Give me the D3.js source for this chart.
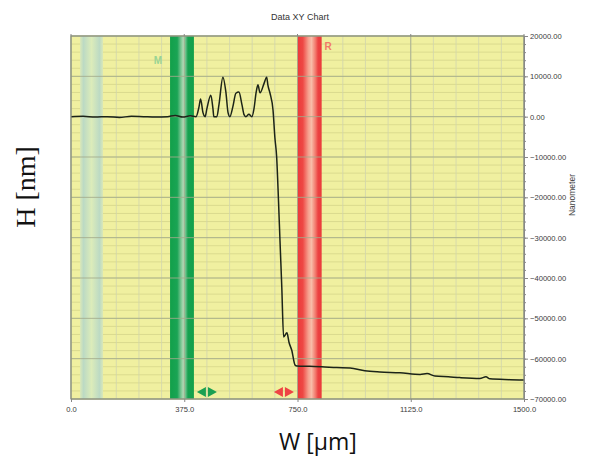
<!DOCTYPE html>
<html>
<head>
<meta charset="utf-8">
<script src="https://cdn.jsdelivr.net/npm/d3@7"></script>
<style>
  body { margin: 0; background: #fff; }
  svg { display: block; }
</style>
</head>
<body>
<div id="chart"></div>
<script>
// profile data (W in µm, H in nm)
const profileX = [0, 40, 80, 120, 160, 200, 240, 280, 320, 345, 370, 395, 414,
  424, 429, 437, 444, 450, 463, 470, 473, 483, 490, 503, 513, 520, 526, 536, 546, 556,
  566, 573, 579, 589, 599, 606, 613, 619, 626, 639, 648, 652, 659, 669, 675, 681, 687,
  692, 698, 704, 715, 722, 731, 742, 748, 790, 830, 880, 924, 973, 1023, 1089, 1156,
  1179, 1205, 1250, 1288, 1354, 1374, 1387, 1454, 1500];
const profileY = [0, 100, -100, 0, -200, 100, 0, -100, 0, 300, -100, 200, 0,
  2500, 4400, 1000, 0, 2000, 5300, 2000, 0, 0, 3000, 9800, 6000, 1000, 0, 2500, 5800, 6100,
  3000, 500, 0, 600, 0, 2000, 6000, 7900, 5900, 8200, 9800, 7800, 5800, 1600, -5100, -10000, -20700,
  -30700, -42300, -54600, -53600, -56000, -57900, -61600, -61800, -61900, -62000, -62200, -62300, -63000, -63300, -63500, -63900,
  -63700, -64300, -64500, -64700, -64900, -64500, -65000, -65200, -65300];

const xTicks = [0, 375, 750, 1125, 1500];
const yTicks = [20000, 10000, 0, -10000, -20000, -30000, -40000, -50000, -60000, -70000];

// cursor bands (x0, x1 in µm)
const bandNames = ["ref", "M", "R"];
const bandStart = [30, 328, 750];
const bandEnd = [106, 407, 830];

// cursor letters
const cursorLabels = ["M", "R"];
const cursorLabelX = [288, 851];
const cursorLabelY = [13800, 17300];

// double arrows under the plot (centre in µm)
const arrowNames = ["M", "R"];
const arrowX = [450, 705];

const W = 589, H = 456;
const plot = {left: 71, right: 524, top: 36, bottom: 399};

const svg = d3.select("#chart").append("svg")
  .attr("width", W).attr("height", H);

const x = d3.scaleLinear().domain([0, 1500]).range([plot.left, plot.right]);
const y = d3.scaleLinear().domain([-70000, 20000]).range([plot.bottom, plot.top]);

const defs = svg.append("defs");
function grad(id, stops) {
  let g = defs.append("linearGradient").attr("id", id)
    .attr("x1", "0%").attr("x2", "100%").attr("y1", "0%").attr("y2", "0%");
  stops.forEach(s => g.append("stop").attr("offset", s[0]).attr("stop-color", s[1]));
}
grad("g-ref", [["0%", "#dae8b8"], ["15%", "#bcdac4"], ["50%", "#dcecba"], ["85%", "#bcdac4"], ["100%", "#dae8b8"]]);
grad("g-M", [["0%", "#12a04a"], ["30%", "#1aa454"], ["44%", "#70c28c"], ["56%", "#b4dcb8"], ["67%", "#5cba80"], ["75%", "#16a250"], ["100%", "#12a04a"]]);
grad("g-R", [["0%", "#ec3a3a"], ["22%", "#ee4844"], ["45%", "#f6a08e"], ["58%", "#f8bca8"], ["75%", "#f2766a"], ["85%", "#ec4242"], ["100%", "#ea3a3a"]]);

// background
svg.append("rect")
  .attr("x", plot.left).attr("y", plot.top)
  .attr("width", plot.right - plot.left).attr("height", plot.bottom - plot.top)
  .attr("fill", "#f0f0a0");

// minor grid
const minorX = d3.range(0, 1501, 75);
const minorY = d3.range(-70000, 20001, 2000);
svg.append("g").selectAll("line").data(minorY).join("line")
  .attr("x1", plot.left).attr("x2", plot.right)
  .attr("y1", d => y(d)).attr("y2", d => y(d))
  .attr("stroke", "#d8d88c").attr("stroke-width", 0.9);
svg.append("g").selectAll("line").data(minorX).join("line")
  .attr("y1", plot.top).attr("y2", plot.bottom)
  .attr("x1", d => x(d)).attr("x2", d => x(d))
  .attr("stroke", "#d0d4ae").attr("stroke-width", 0.8);

// bands
svg.append("g").selectAll("rect").data(bandNames).join("rect")
  .attr("x", (d, i) => x(bandStart[i]))
  .attr("width", (d, i) => x(bandEnd[i]) - x(bandStart[i]))
  .attr("y", plot.top).attr("height", plot.bottom - plot.top)
  .attr("fill", d => `url(#g-${d})`);

// major grid
svg.append("g").selectAll("line").data(yTicks).join("line")
  .attr("x1", plot.left).attr("x2", plot.right)
  .attr("y1", d => y(d)).attr("y2", d => y(d))
  .attr("stroke", "#a3ab8c").attr("stroke-width", 1).attr("opacity", 0.85);
svg.append("g").selectAll("line").data(xTicks).join("line")
  .attr("y1", plot.top).attr("y2", plot.bottom)
  .attr("x1", d => x(d)).attr("x2", d => x(d))
  .attr("stroke", "#a3ab8c").attr("stroke-width", 1).attr("opacity", 0.85);

// profile line
const line = d3.line().x(d => x(d[0])).y(d => y(d[1])).curve(d3.curveMonotoneX);
svg.append("path")
  .datum(profileX.map((v, i) => [v, profileY[i]]))
  .attr("d", line)
  .attr("fill", "none")
  .attr("stroke", "#1c2418")
  .attr("stroke-width", 1.5)
  .attr("stroke-linejoin", "round");

// cursor letters
svg.append("g").selectAll("text").data(cursorLabels).join("text")
  .attr("x", (d, i) => x(cursorLabelX[i]))
  .attr("y", (d, i) => y(cursorLabelY[i]))
  .attr("text-anchor", "middle")
  .attr("dominant-baseline", "middle")
  .attr("font-family", "Liberation Sans, Arial, sans-serif")
  .attr("font-weight", "bold")
  .attr("font-size", 10)
  .attr("fill", d => d === "M" ? "#98d494" : "#f27a68")
  .text(d => d);

// double arrows
const arrowY = 392;
svg.append("g").selectAll("path").data(arrowNames).join("path")
  .attr("d", (d, i) => {
    let c = x(arrowX[i]);
    return `M${c - 10},${arrowY} L${c - 1},${arrowY - 5} L${c - 1},${arrowY + 5} Z ` +
           `M${c + 10},${arrowY} L${c + 1},${arrowY - 5} L${c + 1},${arrowY + 5} Z`;
  })
  .attr("fill", d => d === "M" ? "#1aa052" : "#ee4444");

// plot frame
svg.append("rect")
  .attr("x", plot.left).attr("y", plot.top)
  .attr("width", plot.right - plot.left).attr("height", plot.bottom - plot.top)
  .attr("fill", "none").attr("stroke", "#8a9080").attr("stroke-width", 1.2);

// right axis
const axisFont = "Liberation Sans, Arial, sans-serif";
svg.append("g")
  .attr("transform", `translate(${plot.right},0)`)
  .call(d3.axisRight(y).tickValues(minorY).tickSize(2).tickFormat(""))
  .call(g => g.select(".domain").remove())
  .call(g => g.selectAll("line").attr("stroke", "#888"));
svg.append("g")
  .attr("transform", `translate(${plot.right},0)`)
  .call(d3.axisRight(y).tickValues(yTicks).tickSize(4).tickPadding(2).tickFormat(d3.format(".2f")))
  .call(g => g.select(".domain").attr("stroke", "#888"))
  .call(g => g.selectAll("line").attr("stroke", "#888"))
  .call(g => g.selectAll("text").attr("font-family", axisFont).attr("font-size", 7.6).attr("fill", "#3a3a3a"));

// bottom axis
svg.append("g")
  .attr("transform", `translate(0,${plot.bottom})`)
  .call(d3.axisBottom(x).tickValues(xTicks).tickSize(3).tickPadding(5).tickFormat(d3.format(".1f")))
  .call(g => g.select(".domain").remove())
  .call(g => g.selectAll("line").attr("stroke", "#888"))
  .call(g => g.selectAll("text").attr("font-family", axisFont).attr("font-size", 7.6).attr("fill", "#3a3a3a"));

// top ticks
svg.append("g").selectAll("line").data(xTicks).join("line")
  .attr("x1", d => x(d)).attr("x2", d => x(d))
  .attr("y1", plot.top - 2).attr("y2", plot.top)
  .attr("stroke", "#888");

// titles
svg.append("text")
  .attr("x", 300).attr("y", 20)
  .attr("text-anchor", "middle")
  .attr("font-family", axisFont).attr("font-size", 9).attr("fill", "#333")
  .text("Data XY Chart");

svg.append("text")
  .attr("transform", "translate(573,195) rotate(-90)")
  .attr("text-anchor", "middle")
  .attr("dominant-baseline", "middle")
  .attr("font-family", axisFont).attr("font-size", 8.5).attr("fill", "#444")
  .text("Nanometer");

svg.append("text")
  .attr("transform", "translate(35,187) rotate(-90)")
  .attr("text-anchor", "middle")
  .attr("font-family", "Liberation Serif, Times New Roman, serif")
  .attr("font-size", 28).attr("fill", "#111")
  .text("H [nm]");

svg.append("text")
  .attr("x", 318).attr("y", 450)
  .attr("text-anchor", "middle")
  .attr("font-family", "Open Sans, Noto Sans, sans-serif")
  .attr("font-size", 23).attr("fill", "#111")
  .text("W [μm]");
</script>
</body>
</html>
